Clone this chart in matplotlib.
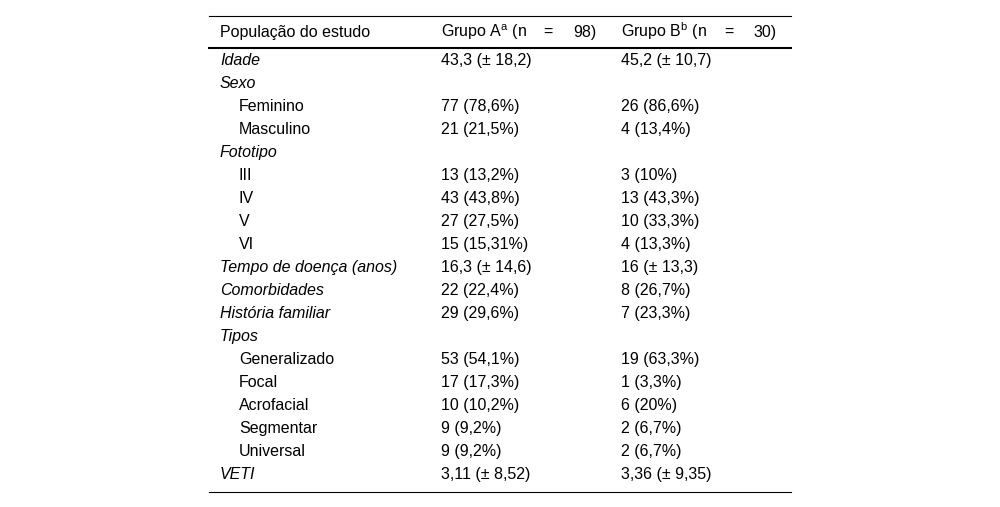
import matplotlib
matplotlib.use("Agg")
import matplotlib.pyplot as plt
from matplotlib.lines import Line2D

plt.rcParams['font.family'] = ['Liberation Sans', 'DejaVu Sans']
plt.rcParams['mathtext.fontset'] = 'custom'
plt.rcParams['mathtext.rm'] = 'Liberation Sans'

labels = ["Idade", "Sexo", "Feminino", "Masculino", "Fototipo", "III", "IV", "V", "VI",
          "Tempo de doença (anos)", "Comorbidades", "História familiar", "Tipos",
          "Generalizado", "Focal", "Acrofacial", "Segmentar", "Universal", "VETI"]
# 0 = italic heading, 1 = indented sub-item
level = [0, 0, 1, 1, 0, 1, 1, 1, 1, 0, 0, 0, 0, 1, 1, 1, 1, 1, 0]
grupo_a = ["43,3 (± 18,2)", "", "77 (78,6%)", "21 (21,5%)", "", "13 (13,2%)", "43 (43,8%)",
           "27 (27,5%)", "15 (15,31%)", "16,3 (± 14,6)", "22 (22,4%)", "29 (29,6%)", "",
           "53 (54,1%)", "17 (17,3%)", "10 (10,2%)", "9 (9,2%)", "9 (9,2%)", "3,11 (± 8,52)"]
grupo_b = ["45,2 (± 10,7)", "", "26 (86,6%)", "4 (13,4%)", "", "3 (10%)", "13 (43,3%)",
           "10 (33,3%)", "4 (13,3%)", "16 (± 13,3)", "8 (26,7%)", "7 (23,3%)", "",
           "19 (63,3%)", "1 (3,3%)", "6 (20%)", "2 (6,7%)", "2 (6,7%)", "3,36 (± 9,35)"]
n_a, n_b = 98, 30

W, H = 1000, 507
fig = plt.figure(figsize=(W / 100, H / 100), dpi=100)
fs = 11.5


def fx(x):
    return x / W


def fy(y):
    return 1 - y / H


def hline(y, lw):
    fig.add_artist(Line2D([fx(209), fx(791)], [fy(y), fy(y)], color='black', lw=lw))


def cell(x, y, s, **kw):
    fig.text(fx(x), fy(y), s, fontsize=fs, va='baseline', **kw)


hline(15.5, 0.8)
hline(47.5, 1.5)
hline(491.5, 0.8)

# header
hy = 37
cell(220, hy, "População do estudo")
cell(441, hy, r"Grupo A$^{\mathregular{a}}$ (n")
cell(548, hy, "=", ha='center')
cell(597, hy, f"{n_a})", ha='right')
cell(621, hy, r"Grupo B$^{\mathregular{b}}$ (n")
cell(729, hy, "=", ha='center')
cell(777, hy, f"{n_b})", ha='right')

row0, step = 65, 23.0
for i, lab in enumerate(labels):
    y = row0 + i * step
    if level[i] == 0:
        cell(220, y, lab, style='italic')
    else:
        cell(239, y, lab)
    cell(441, y, grupo_a[i])
    cell(621, y, grupo_b[i])

fig.savefig("out.png", dpi=100)
